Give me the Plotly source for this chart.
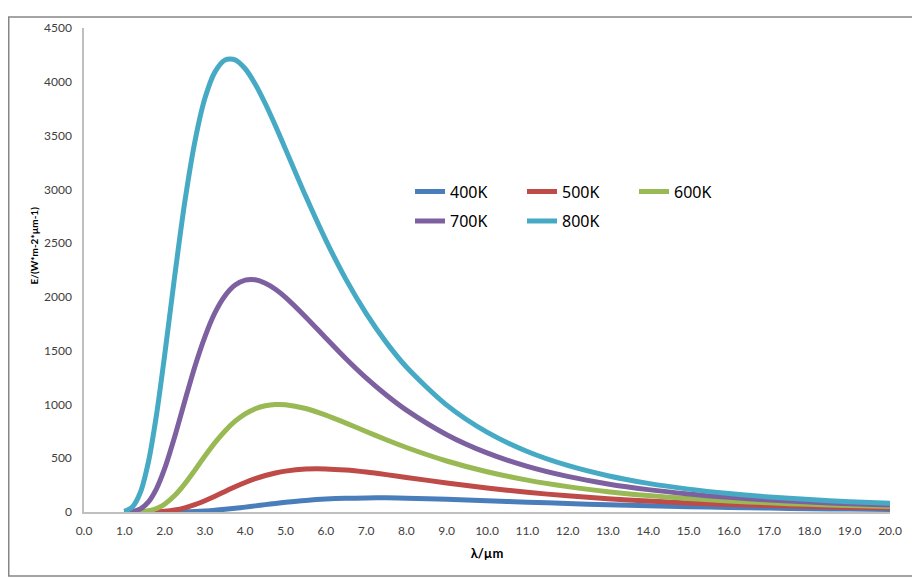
import plotly.graph_objects as go

# wavelength samples (µm)
wavelength = [1.0, 1.2, 1.4, 1.6, 1.8, 2.0, 2.25, 2.5, 2.75, 3.0, 3.25, 3.5, 3.75, 4.0,
              4.25, 4.5, 4.75, 5.0, 5.5, 6.0, 6.5, 7.0, 7.5, 8.0, 9.0, 10.0, 11.0, 12.0, 13.0, 14.0,
              15.0, 16.0, 17.0, 18.0, 19.0, 20.0]

e_400k = [0, 0, 0, 0, 0.04, 0.18, 0.74, 2.2, 5.0, 9.6, 16.1, 24.5, 34.5, 45.4,
          57.0, 68.5, 79.6, 90.0, 107.5, 120.2, 127.9, 131.3, 131.4, 128.8, 118.6, 105.4, 91.8, 79.0, 67.6, 57.7,
          49.3, 42.1, 36.1, 31.1, 26.8, 23.2]
e_500k = [0, 0.01, 0.08, 0.55, 2.3, 6.6, 18.1, 38.4, 67.9, 105.1, 147.4, 191.5, 234.7, 274.7,
          309.8, 339.3, 362.8, 380.3, 399.4, 400.9, 390.0, 371.1, 347.5, 321.7, 270.0, 223.1, 183.2, 150.4, 123.7, 102.2,
          84.8, 70.8, 59.4, 50.2, 42.6, 36.4]
e_600k = [0.01, 0.3, 2.5, 11.1, 32.4, 72.6, 152.6, 261.6, 388.5, 520.2, 644.9, 753.6, 844.2, 912.6,
          959.9, 988.1, 999.8, 997.6, 962.3, 900.8, 826.6, 748.5, 671.9, 599.9, 474.3, 374.1, 296.1, 235.8, 189.2, 153.1,
          124.9, 102.7, 85.1, 71.0, 59.7, 50.5]
e_700k = [0.44, 5.5, 29.3, 94.1, 217.5, 402.4, 699.8, 1030, 1351, 1629, 1853, 2011, 2110, 2156,
          2159, 2127, 2071, 1996, 1814, 1618, 1425, 1247, 1088, 947.2, 719.0, 549.5, 424.1, 330.9, 261.1, 208.2,
          167.8, 136.6, 112.1, 92.8, 77.5, 65.2]
e_800k = [5.8, 46.6, 183.5, 468.4, 906.5, 1454, 2192, 2880, 3441, 3846, 4092, 4203, 4204, 4121,
          3978, 3796, 3591, 3374, 2937, 2528, 2163, 1847, 1577, 1348, 993.8, 742.3, 562.7, 432.6, 337.2, 266.2,
          212.7, 171.8, 140.1, 115.4, 95.8, 80.2]

series_names = ["400K", "500K", "600K", "700K", "800K"]
series_values = [e_400k, e_500k, e_600k, e_700k, e_800k]
colors = ["#4a7ebb", "#be4b48", "#98b954", "#7d60a0", "#46aac5"]
legend_ids = ["legend", "legend", "legend", "legend2", "legend2"]

x_ticks = [i * 1.0 for i in range(21)]
x_tick_text = [f"{v:.1f}" for v in x_ticks]
y_ticks = list(range(0, 4501, 500))

# page body has an 8px default margin -> figure is 912x573, placed at (8,8)
W, H = 912, 573
ML, MR, MT, MB = 76, 30, 12, 69
PW, PH = W - ML - MR, H - MT - MB


def px(xabs):
    return (xabs - 8 - ML) / PW


def py(yabs):
    return (MT + PH - (yabs - 8)) / PH


fig = go.Figure()
for name, vals, col, lg in zip(series_names, series_values, colors, legend_ids):
    fig.add_trace(go.Scatter(
        x=wavelength, y=vals, name=name, mode="lines",
        line=dict(color=col, width=5, shape="spline", smoothing=0.8),
        legend=lg, cliponaxis=False,
    ))

tick_font = dict(family="Lato, 'Open Sans', sans-serif", size=12, color="#404040")
legend_font = dict(family="'Noto Sans', sans-serif", size=16, color="#000000")

fig.update_layout(
    width=W, height=H,
    margin=dict(l=ML, r=MR, t=MT, b=MB),
    paper_bgcolor="white", plot_bgcolor="white",
    xaxis=dict(
        range=[0, 20], tickmode="array", tickvals=x_ticks, ticktext=x_tick_text,
        showgrid=False, zeroline=False, showline=True, linecolor="#bfbfbf", linewidth=1.5,
        ticks="outside", ticklen=7, tickcolor="rgba(0,0,0,0)", tickfont=tick_font,
        title=dict(text="<b>λ/µm</b>", font=dict(family="Lato, sans-serif", size=13, color="#000000"),
                   standoff=12),
    ),
    yaxis=dict(
        range=[0, 4500], tickmode="array", tickvals=y_ticks,
        showgrid=False, zeroline=False, showline=True, linecolor="#bfbfbf", linewidth=1.5,
        ticks="outside", ticklen=8, tickcolor="rgba(0,0,0,0)", tickfont=tick_font,
    ),
    annotations=[dict(
        text="<b>E/(W*m-2*µm-1)</b>", textangle=-90, xref="paper", yref="paper",
        x=px(34), y=py(241), xanchor="center", yanchor="middle", showarrow=False,
        font=dict(family="Lato, sans-serif", size=10, color="#000000"),
    )],
    legend=dict(
        orientation="h", x=px(410), y=py(169), xanchor="left", yanchor="top",
        entrywidth=67, entrywidthmode="pixels", bgcolor="rgba(0,0,0,0)",
        font=legend_font, itemwidth=30, tracegroupgap=0,
    ),
    legend2=dict(
        orientation="h", x=px(410), y=py(199), xanchor="left", yanchor="top",
        entrywidth=67, entrywidthmode="pixels", bgcolor="rgba(0,0,0,0)",
        font=legend_font, itemwidth=30, tracegroupgap=0,
    ),
    shapes=[dict(type="rect", xref="paper", yref="paper",
                 x0=px(8.75), x1=px(916), y0=py(577), y1=py(8.75),
                 line=dict(color="#868686", width=1.5), fillcolor="rgba(0,0,0,0)", layer="below")],
)

fig.write_html("out.html")
